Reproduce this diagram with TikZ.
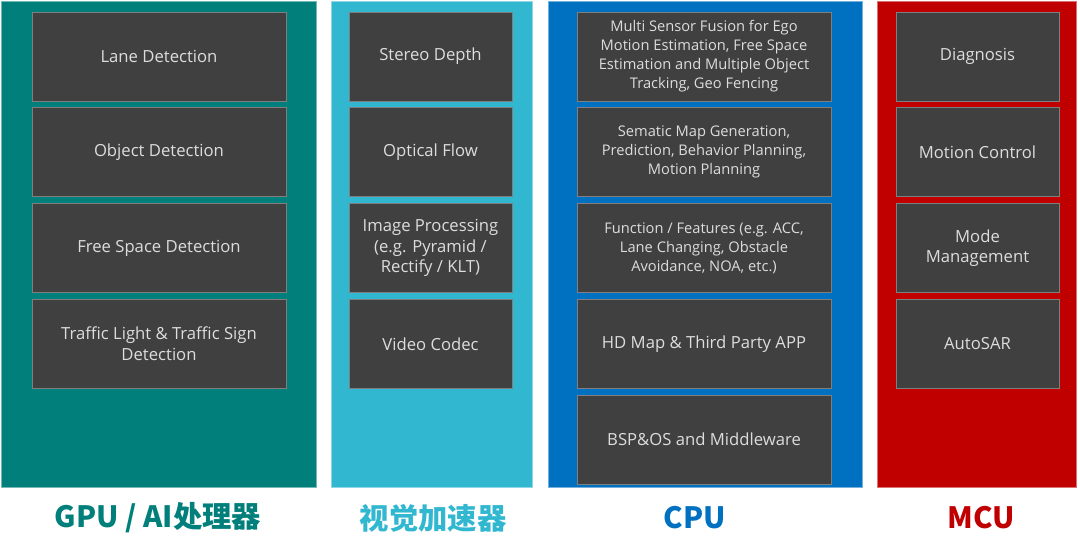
\documentclass[tikz,border=0pt]{standalone}
\usepackage{fontspec}
\setmainfont{Open Sans}
\newfontfamily\cjk{Noto Sans CJK SC}
\definecolor{gputeal}{HTML}{007F7B}
\definecolor{visioncyan}{HTML}{31B7D0}
\definecolor{cpublue}{HTML}{0070C0}
\definecolor{mcured}{HTML}{C00000}
\definecolor{boxgray}{HTML}{404040}
\definecolor{boxline}{HTML}{7F7F7F}
\definecolor{boxtext}{HTML}{DDDDDD}

\begin{document}
\begin{tikzpicture}[x=0.75pt,y=-0.75pt,
  blk/.style={draw=boxline,line width=0.6pt,fill=boxgray,text=boxtext,inner sep=0pt,align=center,
    minimum height=66.75pt,font=\fontsize{12.5}{15.5}\selectfont},
  widebox/.style={blk,minimum width=190.5pt},
  slimbox/.style={blk,minimum width=122.25pt},
  dense/.style={font=\fontsize{11}{14.25}\selectfont},
  lbl/.style={font=\cjk\bfseries\fontsize{22}{24}\selectfont}]
\useasboundingbox (0,0) rectangle (1080,553);

\draw[fill=gputeal,draw=gputeal!55!white,line width=0.6pt] (1,1) rectangle (316,487);
\draw[fill=visioncyan,draw=visioncyan!55!white,line width=0.6pt] (331,1) rectangle (532,487);
\draw[fill=cpublue,draw=cpublue!55!white,line width=0.6pt] (548,1) rectangle (862,487);
\draw[fill=mcured,draw=mcured!55!white,line width=0.6pt] (877,1) rectangle (1076,487);

\node[widebox] (lane) at (159,56.5) {Lane Detection};
\node[widebox] (object) at (159,152.3) {Object Detection};
\node[widebox] (freespace) at (159,248.1) {Free Space Detection};
\node[widebox] (traffic) at (159,343.9) {Traffic Light \& Traffic Sign\\Detection};

\node[slimbox] (stereo) at (430.5,56.5) {Stereo Depth};
\node[slimbox] (optical) at (430.5,152.3) {Optical Flow};
\node[slimbox] (imageproc) at (430.5,248.1) {Image Processing\\(e.g. Pyramid /\\Rectify / KLT)};
\node[slimbox] (codec) at (430.5,343.9) {Video Codec};

\node[widebox,dense] (fusion) at (704,56.5) {Multi Sensor Fusion for Ego\\Motion Estimation, Free Space\\Estimation and Multiple Object\\Tracking, Geo Fencing};
\node[widebox,dense] (semantic) at (704,152.3) {Sematic Map Generation,\\Prediction, Behavior Planning,\\Motion Planning};
\node[widebox,dense] (function) at (704,248.1) {Function / Features (e.g. ACC,\\Lane Changing, Obstacle\\Avoidance, NOA, etc.)};
\node[widebox] (hdmap) at (704,343.9) {HD Map \& Third Party APP};
\node[widebox] (bsp) at (704,439.5) {BSP\&OS and Middleware};

\node[slimbox] (diagnosis) at (977.5,56.5) {Diagnosis};
\node[slimbox] (motion) at (977.5,152.3) {Motion Control};
\node[slimbox] (mode) at (977.5,248.1) {Mode\\Management};
\node[slimbox] (autosar) at (977.5,343.9) {AutoSAR};

\node[lbl,text=gputeal] (gpulbl) at (158,518) {GPU / AI处理器};
\node[lbl,text=visioncyan] (visionlbl) at (433,518) {视觉加速器};
\node[lbl,text=cpublue] (cpulbl) at (695,518) {CPU};
\node[lbl,text=mcured] (mculbl) at (981,518) {MCU};

\end{tikzpicture}
\end{document}
